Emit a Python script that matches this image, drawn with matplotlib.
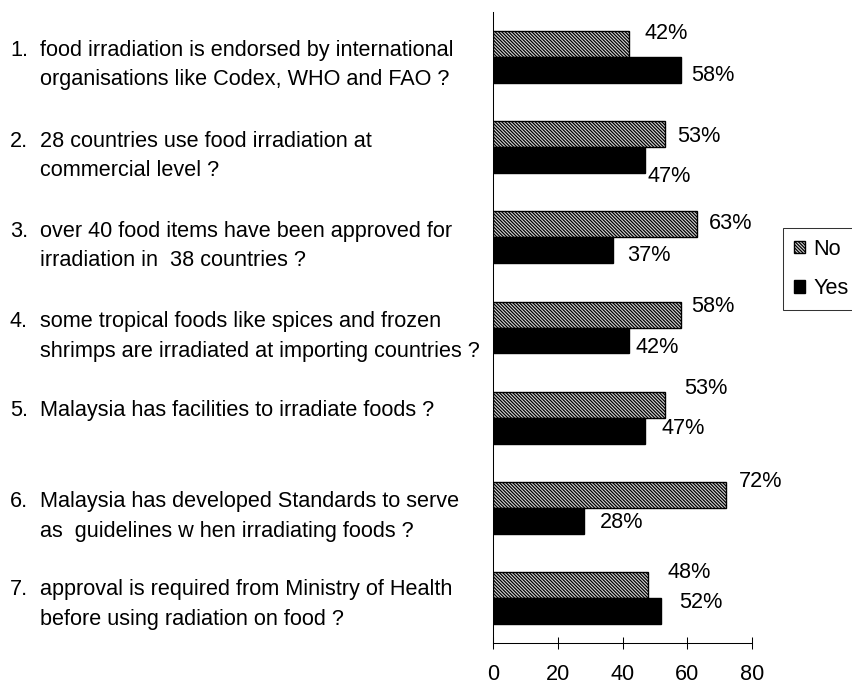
import matplotlib.pyplot as plt
import numpy as np

# Survey answers: "Are you aware that ..."
questions = [
    ["food irradiation is endorsed by international",
     "organisations like Codex, WHO and FAO ?"],
    ["28 countries use food irradiation at",
     "commercial level ?"],
    ["over 40 food items have been approved for",
     "irradiation in  38 countries ?"],
    ["some tropical foods like spices and frozen",
     "shrimps are irradiated at importing countries ?"],
    ["Malaysia has facilities to irradiate foods ?"],
    ["Malaysia has developed Standards to serve",
     "as  guidelines w hen irradiating foods ?"],
    ["approval is required from Ministry of Health",
     "before using radiation on food ?"],
]
no_pct = [42, 53, 63, 58, 53, 72, 48]
yes_pct = [58, 47, 37, 42, 47, 28, 52]
x_ticks = [0, 20, 40, 60, 80]

W, H = 852, 684
FS = 15.6

# pixel nudges for the percentage labels (dx right, dy down)
no_nudge = [(16, -11), (13, 2), (12, -1), (10, -8), (20, -16), (13, -13), (19, -12)]
yes_nudge = [(10, 5), (2, 16), (14, 5), (7, 7), (16, -2), (16, 2), (18, -8)]

# baselines of the first line of each question, in pixels from the top
text_base = [56, 147, 237, 327, 416, 507, 595]
line_gap = 29.5

plt.rcParams['font.family'] = ['Liberation Sans', 'DejaVu Sans']
plt.rcParams['hatch.linewidth'] = 0.9


def main():
    fig = plt.figure(figsize=(W / 100, H / 100), dpi=100)
    ax = fig.add_axes([493 / W, 1 - 643 / H, (752 - 493) / W, (643 - 12) / H])

    y = np.arange(len(no_pct))
    bh = 0.288
    ax.barh(y - bh / 2, no_pct, height=bh, color='#d8d8d8', edgecolor='black',
            hatch='\\' * 10, linewidth=1.0, label='No')
    ax.barh(y + bh / 2, yes_pct, height=bh, color='black', edgecolor='black',
            linewidth=1.0, label='Yes')

    # value labels
    for i, v in enumerate(no_pct):
        dx, dy = no_nudge[i]
        ax.annotate(f"{v}%", xy=(v, i - bh / 2), xytext=(dx * 0.72, -dy * 0.72),
                    textcoords='offset points', ha='left', va='center',
                    fontsize=FS, annotation_clip=False)
    for i, v in enumerate(yes_pct):
        dx, dy = yes_nudge[i]
        ax.annotate(f"{v}%", xy=(v, i + bh / 2), xytext=(dx * 0.72, -dy * 0.72),
                    textcoords='offset points', ha='left', va='center',
                    fontsize=FS, annotation_clip=False)

    ax.set_xlim(0, 80)
    ax.set_ylim(len(no_pct) - 0.5, -0.5)
    ax.set_xticks(x_ticks)
    ax.tick_params(axis='x', direction='inout', length=8.6, width=0.75,
                   pad=10.5, labelsize=FS)
    ax.tick_params(axis='y', left=False, labelleft=False)
    for side in ['top', 'right']:
        ax.spines[side].set_visible(False)
    for side in ['left', 'bottom']:
        ax.spines[side].set_linewidth(0.75)

    # question text on the left
    for i, lines in enumerate(questions):
        base = text_base[i]
        fig.text(10 / W, 1 - base / H, f"{i + 1}.", fontsize=FS, va='baseline')
        for j, line in enumerate(lines):
            fig.text(40 / W, 1 - (base + j * line_gap) / H, line,
                     fontsize=FS, va='baseline')

    leg = ax.legend(loc='upper left', bbox_to_anchor=(783 / W, 1 - 228 / H),
                    bbox_transform=fig.transFigure, borderaxespad=0,
                    fontsize=FS, frameon=True, fancybox=False, shadow=False,
                    handlelength=0.5, handleheight=0.5, handletextpad=0.4,
                    labelspacing=0.85, borderpad=0.5)
    leg.get_frame().set_edgecolor('black')
    leg.get_frame().set_linewidth(0.75)

    fig.savefig('out.png', dpi=100)


if __name__ == "__main__":
    main()
